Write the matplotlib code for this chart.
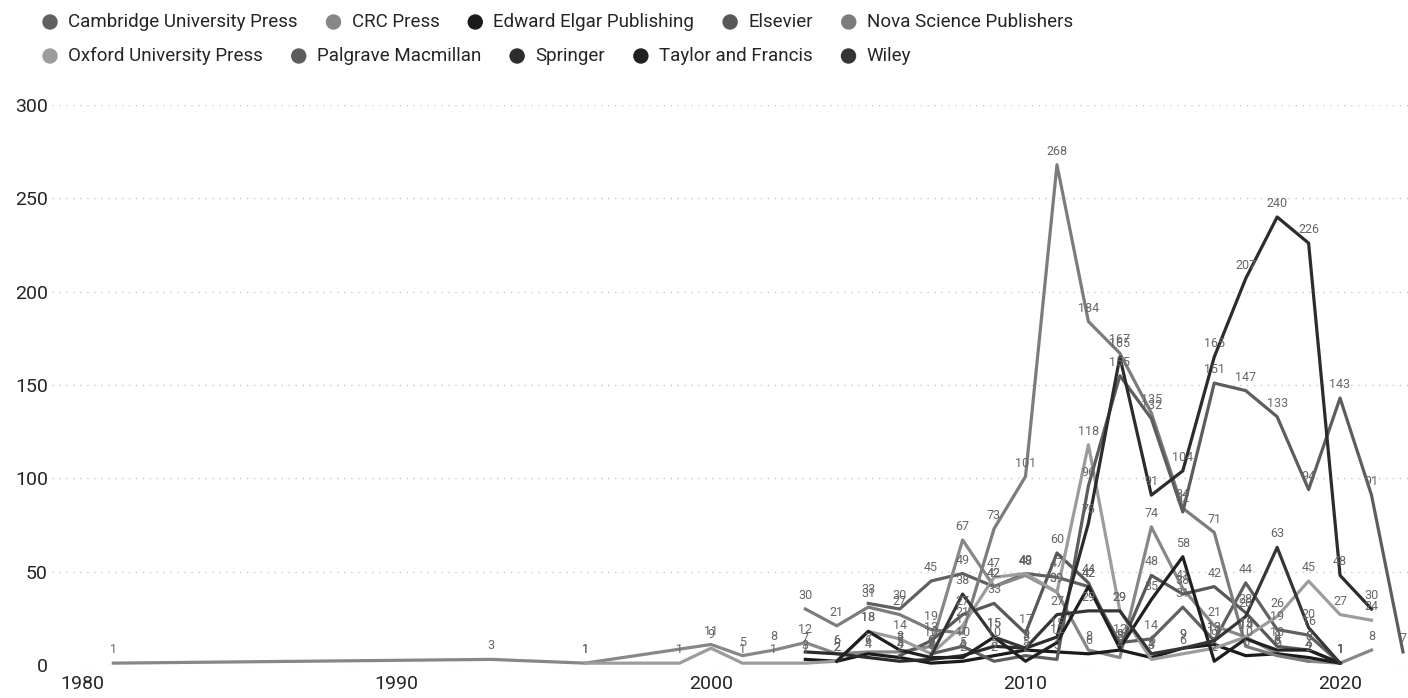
import matplotlib
matplotlib.use("Agg")
import matplotlib.pyplot as plt
from matplotlib.patches import Ellipse

N = None

# x axis: publication year (only years with at least one title)
years = [1981, 1993, 1996, 1999, 2000, 2001, 2002,
         2003, 2004, 2005, 2006, 2007, 2008, 2009, 2010, 2011, 2012,
         2013, 2014, 2015, 2016, 2017, 2018, 2019, 2020, 2021, 2022]

publishers = ["Cambridge University Press", "CRC Press", "Edward Elgar Publishing",
              "Elsevier", "Nova Science Publishers", "Oxford University Press",
              "Palgrave Macmillan", "Springer", "Taylor and Francis", "Wiley"]

# titles per year, one list per publisher (None = nothing that year)
cambridge = [N, N, N, N, N, N, N,
             N, N, 33, 30, 45, 49, 42, 49, 47, 42, 12, 14, 31, 13, 44, 19, 16, 1, N, N]
crc = [1, 3, 1, N, 11, 5, 8,
       12, 6, 7, 7, 10, 67, 42, 48, 39, 8, 4, 74, 41, 21, 15, 6, 2, 1, 8, N]
edward_elgar = [N, N, N, N, N, N, N,
                3, 2, 6, 4, 1, 2, 5, 8, 7, 6, 8, 4, 9, 11, 5, 6, 4, 1, N, N]
elsevier = [N, N, N, N, N, N, N,
            N, N, N, 5, 13, 27, 33, 17, 60, 44, 9, 48, 38, 42, 28, 10, 8, 1, N, N]
nova = [N, N, N, N, N, N, N,
        30, 21, 31, 27, 19, 17, 73, 101, 268, 184, 167, 135, 84, 71, 10, 5, 2, N, N, N]
oxford = [N, N, 1, 1, 9, 1, 1,
          1, 2, 18, 14, 6, 21, 47, 49, 39, 118, 29, 3, 6, 9, 15, 26, 45, 27, 24, N]
palgrave = [N, N, N, N, N, N, N,
            N, N, N, N, 6, 10, 2, 5, 3, 96, 155, 132, 82, 151, 147, 133, 94, 143, 91, 7]
springer = [N, N, N, N, N, N, N,
            7, 6, 4, 2, 3, 5, 10, 9, 15, 76, 165, 91, 104, 165, 207, 240, 226, 48, 30, N]
taylor_francis = [N, N, N, N, N, N, N,
                  N, 2, 18, 8, 4, 4, 15, 2, 12, 42, 9, 35, 58, 2, 14, 8, 8, 1, N, N]
wiley = [N, N, N, N, N, N, N,
         N, N, N, N, 5, 38, 15, 9, 27, 29, 29, 6, 9, 13, 26, 63, 20, 1, N, N]

series = [cambridge, crc, edward_elgar, elsevier, nova,
          oxford, palgrave, springer, taylor_francis, wiley]
colors = ["#606060", "#878787", "#1b1b1b", "#585858", "#7c7c7c",
          "#9c9c9c", "#5d5d5d", "#2c2c2c", "#202020", "#353535"]

x_ticks = [1980, 1990, 2000, 2010, 2020]
y_ticks = [0, 50, 100, 150, 200, 250, 300]

plt.rcParams['font.family'] = ['Roboto', 'DejaVu Sans']

W, H = 1408, 698
fig = plt.figure(figsize=(W / 100, H / 100), dpi=100)
ax = fig.add_axes([52 / W, 33 / H, 1 - 52 / W, 560 / H])

for name, vals, col in zip(publishers, series, colors):
    xs = [y for y, v in zip(years, vals) if v is not None]
    ys = [v for v in vals if v is not None]
    ax.plot(xs, ys, color=col, lw=2.3, zorder=3)
    for x, y in zip(xs, ys):
        ax.annotate(str(y), (x, y), xytext=(0, 5), textcoords='offset points',
                    ha='center', va='bottom', fontsize=9, color='#666666', zorder=4)

ax.set_xlim(1979.05, 2022.16)
ax.set_ylim(0, 300)
ax.set_xticks(x_ticks)
ax.set_xticklabels([str(t) for t in x_ticks])
ax.set_yticks(y_ticks)
ax.set_yticklabels([str(t) for t in y_ticks])
ax.tick_params(axis='both', length=0, labelsize=14, colors='#252525')
ax.tick_params(axis='x', pad=7)
ax.tick_params(axis='y', pad=3)
ax.grid(axis='y', linestyle=(0, (1, 4)), color='#c8c8c8', lw=1.0)
ax.set_axisbelow(True)
for s in ax.spines.values():
    s.set_visible(False)

# legend: two rows across the top, items flowing left to right
rows = [publishers[:5], publishers[5:]]
row_y = [22, 56]
renderer = fig.canvas.get_renderer()
k = 0
for names, py in zip(rows, row_y):
    px = 50
    for name in names:
        col = colors[k]
        k += 1
        fig.patches.append(Ellipse((px / W, 1 - py / H), 14 / W, 14 / H,
                                   transform=fig.transFigure, color=col, zorder=5))
        t = fig.text((px + 18) / W, 1 - py / H, name, fontsize=13.5,
                     color='#252525', va='center', ha='left')
        w = t.get_window_extent(renderer).width
        px = px + 18 + w + 36

fig.savefig("out.png", dpi=100)
